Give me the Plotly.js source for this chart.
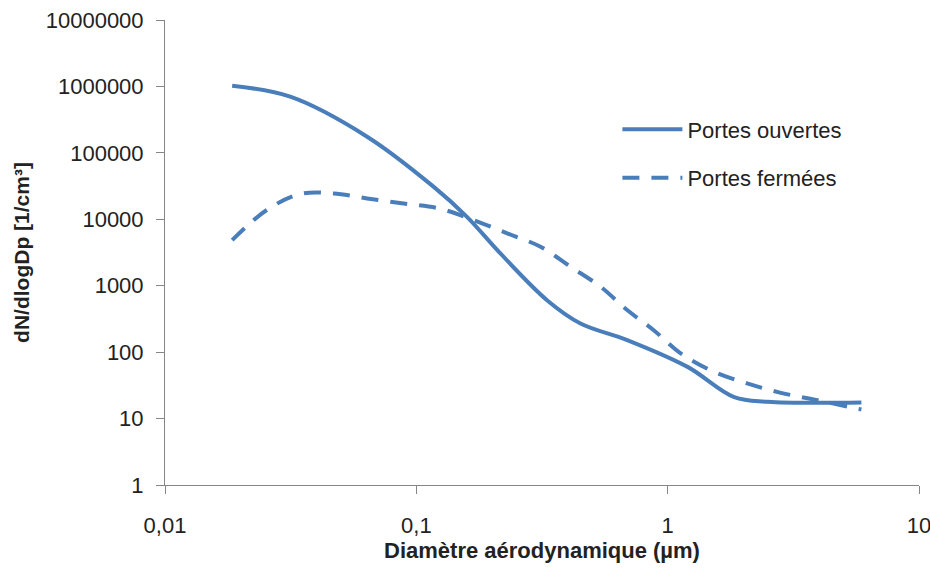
<!DOCTYPE html>
<html>
<head>
<meta charset="utf-8">
<script src="https://cdn.plot.ly/plotly-3.0.1.min.js"></script>
<style>html,body{margin:0;padding:0;background:#fff;}#chart{width:930px;height:569px;}</style>
</head>
<body>
<div id="chart"></div>
<script>
// Portes ouvertes (solid)
const xOuvertes = [0.0185, 0.0315, 0.0637, 0.117, 0.159, 0.216, 0.332, 0.45, 0.69, 1.2, 1.84, 2.5, 5.9];
const yOuvertes = [1020000, 700000, 175000, 31000, 10900, 3060, 600, 270, 152, 60, 21, 17.9, 17.5];
// Portes fermées (dashed)
const xFermees = [0.0185, 0.0254, 0.0345, 0.0469, 0.0637, 0.089, 0.123, 0.169, 0.23, 0.312, 0.411, 0.541, 0.69, 0.88, 1.13, 1.53, 2.07, 2.82, 3.94, 5.9];
const yFermees = [4860, 13800, 24000, 24500, 20600, 17300, 14600, 9730, 6140, 3860, 1930, 964, 430, 214, 95, 50.5, 33.8, 24.4, 18.9, 13.7];
const yTickVals = [1, 10, 100, 1000, 10000, 100000, 1000000, 10000000];
const yTickText = ["1", "10", "100", "1000", "10000", "100000", "1000000", "10000000"];
const xTickVals = [0.01, 0.1, 1, 10];
const xTickText = ["0,01", "0,1", "1", "10"];

const color = '#4a7ebb';
const traces = [
  {x: xOuvertes, y: yOuvertes, name: 'Portes ouvertes', mode: 'lines', legendgroup: 'a',
   line: {color: color, width: 4, shape: 'spline', smoothing: 1}},
  {x: xFermees, y: yFermees, name: 'Portes fermées', mode: 'lines', legendgroup: 'b',
   line: {color: color, width: 4, shape: 'spline', smoothing: 1, dash: '17px,12px'}}
];
const tickFont = {family: 'Liberation Sans, Arial, sans-serif', size: 22, color: '#222'};
const layout = {
  width: 930, height: 569,
  margin: {l: 165, r: 11, t: 20, b: 84},
  paper_bgcolor: '#fff', plot_bgcolor: '#fff',
  showlegend: true,
  legend: {x: 0.6, y: 0.81, xanchor: 'left', yanchor: 'top', bgcolor: 'rgba(0,0,0,0)',
           font: {family: 'Liberation Sans, Arial, sans-serif', size: 22, color: '#222'},
           tracegroupgap: 17, itemwidth: 60},
  xaxis: {type: 'log', range: [-2, 1], tickvals: xTickVals, ticktext: xTickText,
          showgrid: false, zeroline: false, showline: true, linecolor: '#868686', linewidth: 1,
          ticks: 'outside', ticklen: 8, tickcolor: '#868686', tickfont: tickFont,
          ticklabeloverflow: 'allow', ticklabelstandoff: 13,
          title: {text: 'Diamètre aérodynamique (µm)', standoff: 3,
                  font: {family: 'Liberation Sans, Arial, sans-serif', size: 22, color: '#222', weight: 'bold'}}},
  yaxis: {type: 'log', range: [0, 7], tickvals: yTickVals, ticktext: yTickText,
          showgrid: false, zeroline: false, showline: true, linecolor: '#868686', linewidth: 1,
          ticks: 'outside', ticklen: 8, tickcolor: '#868686', tickfont: tickFont,
          ticklabelstandoff: 8,
          title: {text: 'dN/dlogDp [1/cm³]', standoff: 10,
                  font: {family: 'Liberation Sans, Arial, sans-serif', size: 21, color: '#222', weight: 'bold'}}}
};
Plotly.newPlot('chart', traces, layout, {displayModeBar: false, staticPlot: true});
</script>
</body>
</html>
